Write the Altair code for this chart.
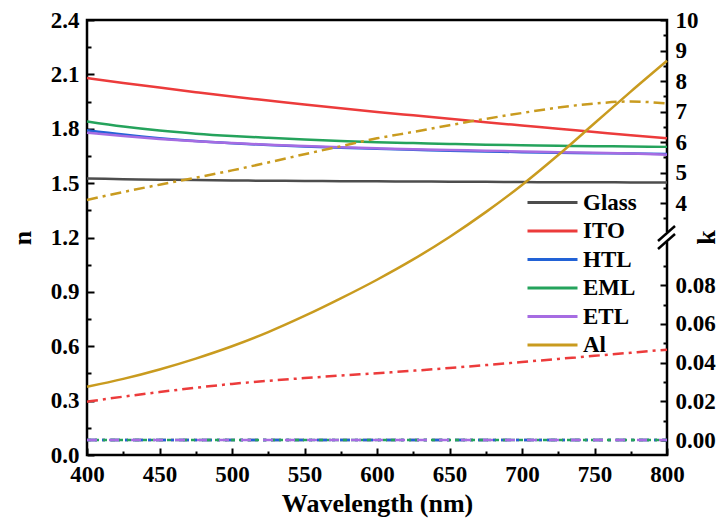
import altair as alt
import pandas as pd

# ---------------- data ----------------
wavelength = [400, 425, 450, 475, 500, 525, 550, 575, 600, 625, 650, 675, 700, 725, 750, 775, 800]

glass_n = [1.525, 1.522, 1.519, 1.517, 1.515, 1.513, 1.512, 1.511, 1.510, 1.509, 1.508, 1.507, 1.506, 1.505, 1.505, 1.504, 1.503]
ito_n = [2.080, 2.053, 2.027, 2.002, 1.978, 1.956, 1.934, 1.913, 1.893, 1.874, 1.855, 1.836, 1.818, 1.800, 1.782, 1.764, 1.747]
htl_n = [1.792, 1.768, 1.748, 1.732, 1.720, 1.710, 1.702, 1.695, 1.689, 1.684, 1.679, 1.675, 1.671, 1.668, 1.665, 1.663, 1.661]
eml_n = [1.840, 1.812, 1.790, 1.773, 1.760, 1.750, 1.741, 1.733, 1.726, 1.721, 1.716, 1.712, 1.709, 1.706, 1.704, 1.702, 1.700]
etl_n = [1.778, 1.760, 1.744, 1.731, 1.721, 1.712, 1.705, 1.698, 1.692, 1.687, 1.683, 1.679, 1.675, 1.671, 1.668, 1.664, 1.657]
al_n = [0.377, 0.420, 0.472, 0.532, 0.600, 0.678, 0.767, 0.864, 0.967, 1.079, 1.203, 1.340, 1.490, 1.655, 1.830, 2.005, 2.175]

al_k = [4.10, 4.36, 4.60, 4.83, 5.07, 5.33, 5.60, 5.86, 6.12, 6.33, 6.55, 6.76, 6.95, 7.13, 7.26, 7.33, 7.26]
ito_k = [0.0198, 0.0224, 0.0248, 0.0270, 0.0290, 0.0306, 0.0320, 0.0333, 0.0345, 0.0358, 0.0372, 0.0387, 0.0403, 0.0419, 0.0435, 0.0451, 0.0467]
zero_k = [0.0, 0.0, 0.0, 0.0, 0.0, 0.0, 0.0, 0.0, 0.0, 0.0, 0.0, 0.0, 0.0, 0.0, 0.0, 0.0, 0.0]

materials = ["Glass", "ITO", "HTL", "EML", "ETL", "Al"]
colors = ["#4d4d4d", "#ec3b3b", "#2262d6", "#25a35c", "#a66ce2", "#c99b1f"]

x_ticks = [400, 425, 450, 475, 500, 525, 550, 575, 600, 625, 650, 675, 700, 725, 750, 775, 800]
n_ticks = [0.0, 0.15, 0.3, 0.45, 0.6, 0.75, 0.9, 1.05, 1.2, 1.35, 1.5, 1.65, 1.8, 1.95, 2.1, 2.25, 2.4]
k_ticks = [0.0, 0.01, 0.02, 0.03, 0.04, 0.05, 0.06, 0.07, 0.08, 0.09,
           3.5, 4, 4.5, 5, 5.5, 6, 6.5, 7, 7.5, 8, 8.5, 9, 9.5, 10]

# ---------------- tables ----------------
n_series = [glass_n, ito_n, htl_n, eml_n, etl_n, al_n]
rows = []
for m, vals in zip(materials, n_series):
    for w, v in zip(wavelength, vals):
        rows.append({"wl": w, "n": v, "material": m})
n_df = pd.DataFrame(rows)

alk_df = pd.DataFrame({"wl": wavelength, "k": al_k})
itok_df = pd.DataFrame({"wl": wavelength, "k": ito_k})
zero_df = pd.DataFrame({"wl": wavelength, "k": zero_k})

FONT = "Liberation Serif"
W, H = 580, 435
TS = 7  # major tick length


def tick_axis(values, orient, minor_test, label_expr, **kw):
    base = dict(
        values=values, orient=orient, offset=-TS, tickSize=TS, tickWidth=2, tickColor="black",
        tickDash={"condition": {"test": minor_test, "value": [4, 3]}, "value": [TS, 0]},
        tickDashOffset=4,
        domain=False, grid=False,
        labelExpr=label_expr,
        labelFont=FONT, labelFontSize=23, labelFontWeight="bold", labelColor="black",
        labelOverlap=False, labelFlush=False, labelBound=False,
        titleFont=FONT, titleFontSize=26, titleFontWeight="bold", titleColor="black",
    )
    base.update(kw)
    return alt.Axis(**base)


x_scale = alt.Scale(domain=[400, 800], nice=False, zero=False)

x_axis = tick_axis(
    x_ticks, "bottom", "datum.value % 50 != 0",
    "datum.value % 50 == 0 ? format(datum.value, 'd') : ''",
    labelPadding=8, title="Wavelength (nm)", titleBaseline="alphabetic", titleY=63,
)
n_axis = tick_axis(
    n_ticks, "left", "round(datum.value*100) % 30 != 0",
    "round(datum.value*100) % 30 == 0 ? format(datum.value, '.1f') : ''",
    labelPadding=8, title="n", titleAngle=270, titleBaseline="middle", titleX=-72,
)
k_axis = tick_axis(
    k_ticks, "right",
    "datum.value < 1 ? round(datum.value*100) % 2 != 0 : datum.value % 1 != 0",
    "datum.value < 1 ? (round(datum.value*100) % 2 == 0 ? format(datum.value, '.2f') : '') "
    ": (datum.value % 1 == 0 ? format(datum.value, 'd') : '')",
    labelPadding=8, title="k", titleAngle=270, titleBaseline="middle", titleX=46, titleY=217,
)

n_layer = alt.Chart(n_df).mark_line(strokeWidth=2.5, interpolate="monotone").encode(
    x=alt.X("wl:Q", scale=x_scale, axis=x_axis),
    y=alt.Y("n:Q", scale=alt.Scale(domain=[0, 2.4], nice=False, zero=False), axis=n_axis),
    color=alt.Color(
        "material:N",
        scale=alt.Scale(domain=materials, range=colors),
        sort=materials,
        legend=alt.Legend(
            orient="none", legendX=454, legendY=171, title=None,
            symbolType="M-5,0H5", symbolSize=100, symbolStrokeWidth=3,
            labelFont=FONT, labelFontSize=23, labelFontWeight="bold", labelColor="black",
            labelOffset=19, rowPadding=4.5, padding=0,
        ),
    ),
    order=alt.Order("wl:Q"),
)

# broken k axis: piecewise scale, lower part -0.008..0.1, upper part 3..10
k_scale = alt.Scale(domain=[-0.00775, 0.1, 3, 10], range=[435, 226.5, 213.5, 0], nice=False, zero=False)


def k_line(df, color, dash, axis=None, offset=0, interp="monotone"):
    return alt.Chart(df).mark_line(
        strokeWidth=2.5, color=color, strokeDash=dash, strokeDashOffset=offset, interpolate=interp
    ).encode(
        x=alt.X("wl:Q", scale=x_scale, axis=None),
        y=alt.Y("k:Q", scale=k_scale, axis=axis),
    )


k_layer = alt.layer(
    k_line(alk_df, colors[5], [11, 5, 3, 5], axis=k_axis),
    k_line(itok_df, colors[1], [11, 5, 3, 5]),
    k_line(zero_df, colors[0], [10, 5, 3, 5]),
    k_line(zero_df, colors[2], [10, 5, 3, 5]),
    k_line(zero_df, colors[3], [4, 4]),
    k_line(zero_df, colors[4], [10, 12]),
).resolve_axis(y="independent")

# axis-break marker on the right-hand k axis
deco_df = pd.DataFrame({"d": [0]})
gap = alt.Chart(deco_df).mark_rect(color="white").encode(
    x=alt.value(576), x2=alt.value(584), y=alt.value(212), y2=alt.value(222)
)
slash1 = alt.Chart(deco_df).mark_rule(color="black", strokeWidth=2.4).encode(
    x=alt.value(571), x2=alt.value(588), y=alt.value(221), y2=alt.value(206)
)
slash2 = alt.Chart(deco_df).mark_rule(color="black", strokeWidth=2.4).encode(
    x=alt.value(571), x2=alt.value(588), y=alt.value(229), y2=alt.value(214)
)

chart = alt.layer(
    n_layer, k_layer, gap, slash1, slash2
).resolve_scale(
    y="independent"
).resolve_axis(
    x="independent", y="independent"
).properties(
    width=W, height=H,
    padding={"left": 79, "top": 12, "right": 52, "bottom": 63},
    autosize=alt.AutoSizeParams(type="none"),
    background="white",
).configure_view(
    stroke="black", strokeWidth=2.5
)

chart.save("out.html", embed_options={"renderer": "svg", "actions": False})
